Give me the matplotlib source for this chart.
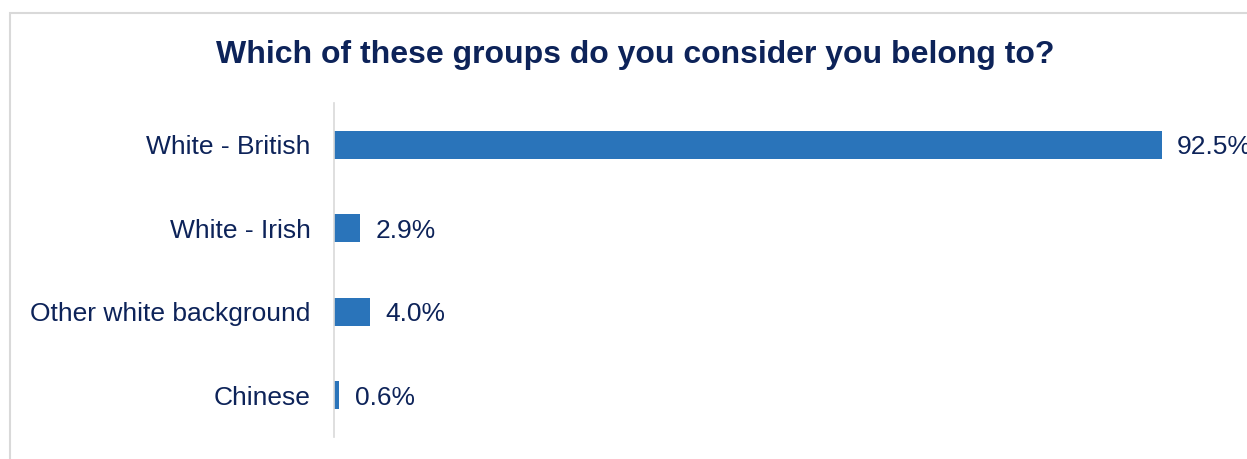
import matplotlib.pyplot as plt
from matplotlib.patches import Rectangle

plt.rcParams['font.family'] = ['Liberation Sans', 'DejaVu Sans']

categories = ["White - British", "White - Irish", "Other white background", "Chinese"]
values = [92.5, 2.9, 4.0, 0.6]
value_labels = ["92.5%", "2.9%", "4.0%", "0.6%"]

navy = "#0D2359"
bar_color = "#2A74BA"

fig = plt.figure(figsize=(12.47, 4.59), dpi=100)
ax = fig.add_axes([334 / 1247, 1 - 437 / 459, 895 / 1247, 334 / 459])

y = list(range(len(categories)))
ax.barh(y, values, height=0.34, color=bar_color)
for yi, v, lab in zip(y, values, value_labels):
    ax.text(v + 1.7, yi, lab, va="center_baseline", ha="left", fontsize=19, color=navy)

ax.set_yticks(y)
ax.set_yticklabels(categories, fontsize=19, color=navy)
for t in ax.get_yticklabels():
    t.set_verticalalignment("center_baseline")
ax.set_ylim(3.5, -0.5)
ax.set_xlim(0, 100)
ax.tick_params(axis="y", length=0, pad=17)
ax.set_xticks([])
for s in ["top", "right", "bottom"]:
    ax.spines[s].set_visible(False)
ax.spines["left"].set_color("#D9D9D9")
ax.spines["left"].set_linewidth(1.2)

fig.text(635 / 1247, 1 - 51 / 459, "Which of these groups do you consider you belong to?",
         ha="center", va="center_baseline", fontsize=23, fontweight="bold", color=navy)

fig.patches.append(Rectangle((10 / 1247, -0.1), 1.0, 1.1 - 13 / 459,
                             transform=fig.transFigure, fill=False,
                             edgecolor="#D9D9D9", linewidth=1.5))

fig.savefig("out.png", dpi=100)
